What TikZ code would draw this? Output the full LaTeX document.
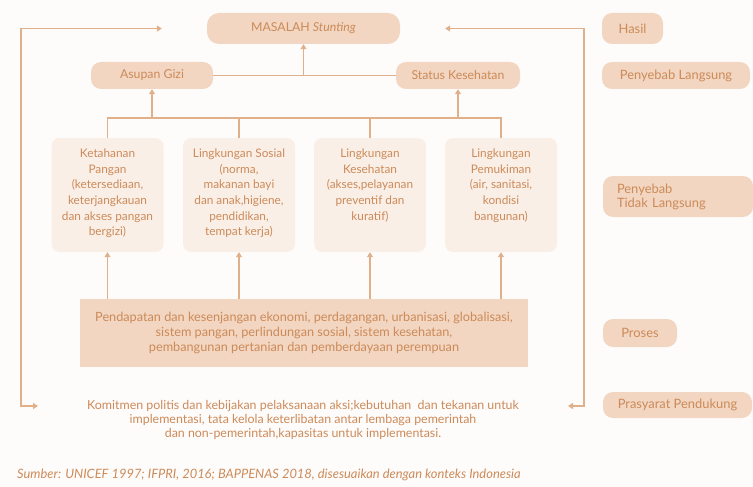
\documentclass[tikz,border=0pt]{standalone}
\usepackage{fontspec}
\setmainfont{Lato}
\usepackage{xcolor}
\usetikzlibrary{arrows.meta}
\definecolor{stxt}{HTML}{CC8A58}
\definecolor{sfill}{HTML}{F2D6C1}
\definecolor{slight}{HTML}{FAEFE7}
\definecolor{sline}{HTML}{E0B08B}
\definecolor{sbg}{HTML}{FEFCFB}
\tikzset{
  sln/.style={draw=sline,line width=1.1pt},
  sarr/.style={sln,-{Triangle[length=5pt,width=6pt]}},
  sdarr/.style={sln,{Triangle[length=5pt,width=6pt]}-{Triangle[length=5pt,width=6pt]}},
  sbox/.style={fill=sfill,rounded corners=10pt,text=stxt,inner sep=0pt,
    font=\fontsize{12.3}{15}\selectfont},
  rbox/.style={sbox,font=\fontsize{12.9}{14}\selectfont},
  lbox/.style={fill=slight,rounded corners=8pt,minimum width=112pt,minimum height=114pt},
  ltxt/.style={text=stxt,align=center,anchor=north,inner sep=0pt,
    font=\fontsize{11.8}{15.6}\selectfont}
}
\begin{document}
\begin{tikzpicture}[x=1pt,y=-1pt]
  \fill[sbg] (0,0) rectangle (753,487);
  \useasboundingbox (0,0) rectangle (753,487);
  % outcome and direct causes
  \node[sbox,minimum width=193pt,minimum height=31pt,rounded corners=12pt] (mas) at (303.5,28.5)
    {MASALAH \textit{Stunting}};
  \node[sbox,minimum width=122pt,minimum height=27pt] (asu) at (152,75.5) {Asupan Gizi};
  \node[sbox,minimum width=124pt,minimum height=27pt] (sta) at (458,75.5) {Status Kesehatan};
  % indirect causes
  \node[lbox] (kp) at (107.5,195) {};
  \node[lbox] (ls) at (239,195) {};
  \node[lbox] (lk) at (370,195) {};
  \node[lbox] (lp) at (501,195) {};
  \node[ltxt] at ([yshift=-11pt]kp.north)
    {Ketahanan\\Pangan\\(ketersediaan,\\keterjangkauan\\dan akses pangan\\bergizi)};
  \node[ltxt] at ([yshift=-11pt]ls.north)
    {Lingkungan Sosial\\(norma,\\makanan bayi\\dan anak,higiene,\\pendidikan,\\tempat kerja)};
  \node[ltxt] at ([yshift=-11pt]lk.north)
    {Lingkungan\\Kesehatan\\(akses,pelayanan\\preventif dan\\kuratif)};
  \node[ltxt] at ([yshift=-11pt]lp.north)
    {Lingkungan\\Pemukiman\\(air, sanitasi,\\kondisi\\bangunan)};
  % process
  \node[fill=sfill,minimum width=448pt,minimum height=68pt,text=stxt,align=center,
    font=\fontsize{12.7}{15}\selectfont] (pb) at (304,333)
    {Pendapatan dan kesenjangan ekonomi, perdagangan, urbanisasi, globalisasi,\\
     sistem pangan, perlindungan sosial, sistem kesehatan,\\
     pembangunan pertanian dan pemberdayaan perempuan};
  \node[text=stxt,align=center,inner sep=0pt,font=\fontsize{12.4}{14}\selectfont] (kom) at (303,420)
    {Komitmen politis dan kebijakan pelaksanaan aksi;kebutuhan\ \ dan tekanan untuk\\
     implementasi, tata kelola keterlibatan antar lembaga pemerintah\\
     dan non-pemerintah,kapasitas untuk implementasi.};
  \node[text=stxt,anchor=west,inner sep=0pt,font=\fontsize{12.9}{14}\selectfont\itshape] (src) at (17,475)
    {Sumber: UNICEF 1997; IFPRI, 2016; BAPPENAS 2018, disesuaikan dengan konteks Indonesia};
  % levels
  \node[rbox,minimum width=61pt,minimum height=31pt] (hasil) at (632.5,28.5) {Hasil};
  \node[rbox,minimum width=148pt,minimum height=27pt] (pl) at (676,75.5) {Penyebab Langsung};
  \node[rbox,minimum height=41pt,text width=122pt,inner xsep=14pt,align=left] (ptl) at (678,196.5)
    {Penyebab\\Tidak Langsung};
  \node[rbox,minimum width=74pt,minimum height=28pt] (pro) at (640,333) {Proses};
  \node[rbox,minimum width=149pt,minimum height=26pt] (pra) at (677.5,405) {Prasyarat Pendukung};
  % connectors
  \coordinate (bus) at (0,118);
  \draw[sln] (asu.east) -- (sta.west);
  \draw[sarr] (mas.south |- asu.east) -- (mas.south);
  \draw[sln] (kp.north) |- (lp.north |- bus) -- (lp.north);
  \draw[sln] (ls.north) -- (ls.north |- bus);
  \draw[sln] (lk.north) -- (lk.north |- bus);
  \draw[sarr] (asu.south |- bus) -- (asu.south);
  \draw[sarr] (sta.south |- bus) -- (sta.south);
  \foreach \b in {kp,ls,lk,lp}
    \draw[sarr] (\b.south |- pb.north) -- (\b.south);
  % feedback
  \coordinate (fl1) at (38,406);
  \coordinate (fl2) at ([xshift=-45pt]mas.west);
  \coordinate (fr1) at (568,406);
  \coordinate (fr2) at ([xshift=45pt]mas.east);
  \coordinate (lx) at (21,0);
  \coordinate (rx) at (584,0);
  \draw[sdarr] (fl1) -| (lx |- fl2) -- (fl2);
  \draw[sdarr] (fr1) -| (rx |- fr2) -- (fr2);
\end{tikzpicture}
\end{document}
